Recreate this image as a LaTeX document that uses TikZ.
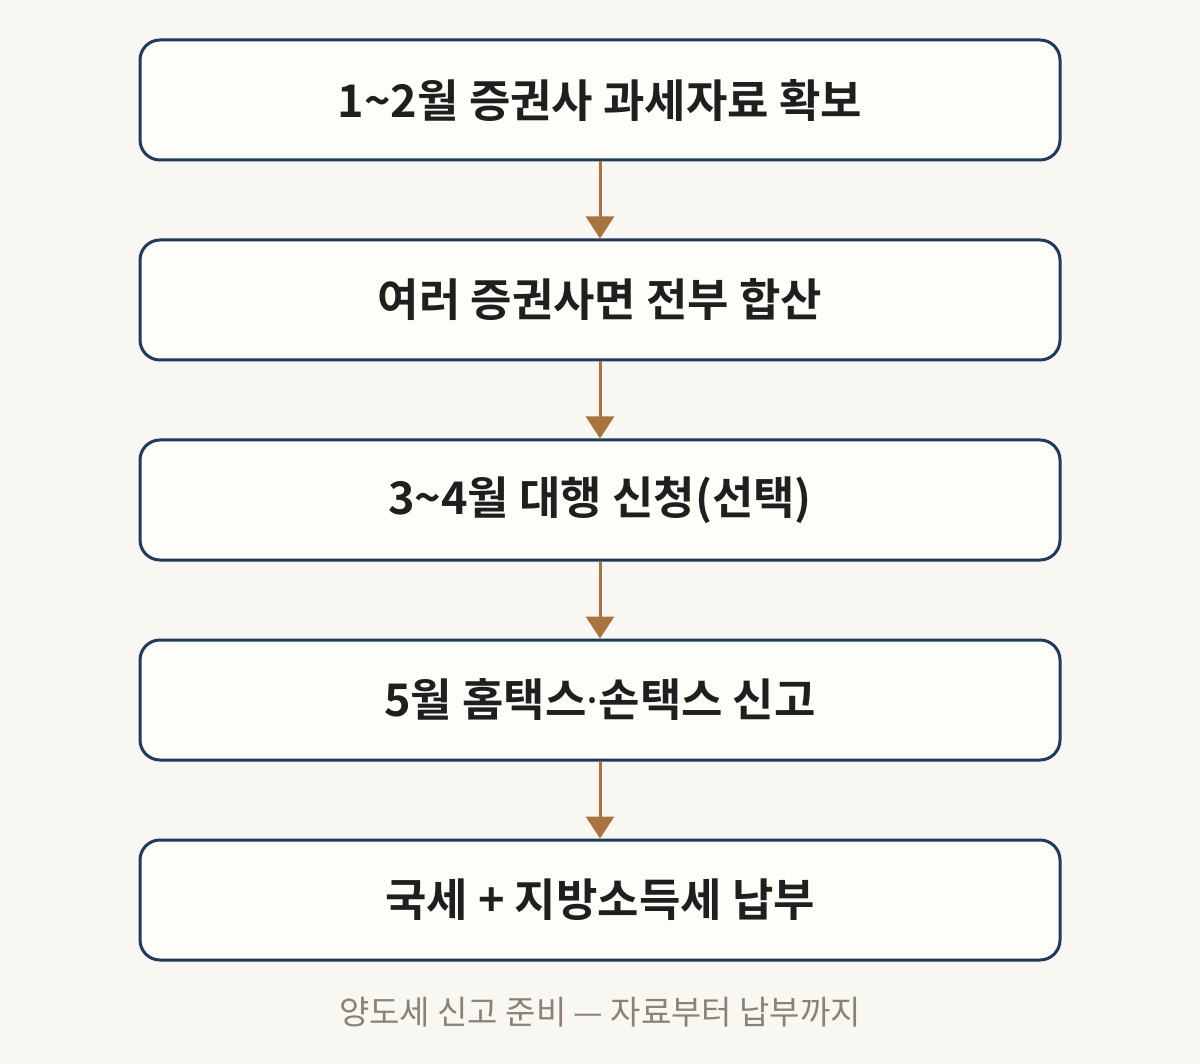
\documentclass[tikz,border=0pt]{standalone}
\usepackage{fontspec}
\newfontfamily\kor{Noto Sans CJK KR}
\newfontfamily\korb{Noto Sans CJK KR Bold}
\newfontfamily\latn{Noto Sans}
\usetikzlibrary{arrows.meta}
\definecolor{bgc}{HTML}{F9F7F1}
\definecolor{boxfill}{HTML}{FFFDF8}
\definecolor{boxline}{HTML}{1E3A5F}
\definecolor{arrowc}{HTML}{A8743E}
\definecolor{txt}{HTML}{1F1F1F}
\definecolor{capc}{HTML}{8A8278}
\tikzset{
  stepbox/.style={draw=boxline, fill=boxfill, line width=3pt, rounded corners=20pt,
    minimum width=920pt, minimum height=120pt, inner sep=0pt,
    font=\korb\fontsize{45pt}{54pt}\selectfont, text=txt},
  flowarrow/.style={draw=arrowc, line width=3pt,
    -{Triangle[length=22pt,width=28pt]}, shorten >=0pt},
  captext/.style={font=\kor\fontsize{33pt}{40pt}\selectfont, text=capc, inner sep=0pt}
}
\begin{document}
\begin{tikzpicture}[x=1pt,y=-1pt]
\fill[bgc] (0,0) rectangle (1200,1064);
\useasboundingbox (0,0) rectangle (1200,1064);
\node[stepbox] (s1) at (600,100) {1\textasciitilde2월 증권사 과세자료 확보};
\node[stepbox] (s2) at (600,300) {여러 증권사면 전부 합산};
\node[stepbox] (s3) at (600,500) {3\textasciitilde4월 대행 신청(선택)};
\node[stepbox] (s4) at (600,700) {5월 홈택스{\latn\bfseries ·}손택스 신고};
\node[stepbox] (s5) at (600,900) {국세 + 지방소득세 납부};
\draw[flowarrow] (s1.south) -- (s2.north);
\draw[flowarrow] (s2.south) -- (s3.north);
\draw[flowarrow] (s3.south) -- (s4.north);
\draw[flowarrow] (s4.south) -- (s5.north);
\node[captext] (cap) at (600,1012) {양도세 신고 준비 — 자료부터 납부까지};
\end{tikzpicture}
\end{document}
